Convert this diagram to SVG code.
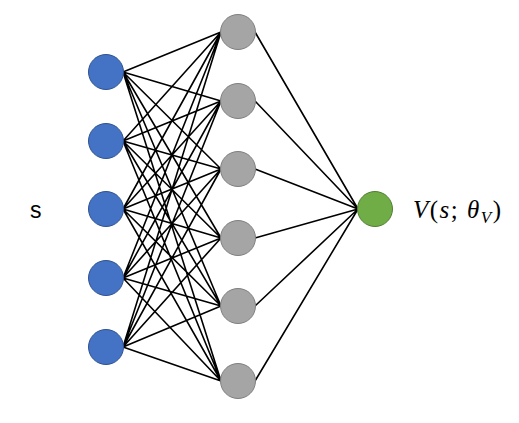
<svg xmlns="http://www.w3.org/2000/svg" width="519" height="423" viewBox="0 0 519 423">
<style>
.e{stroke:#000;stroke-width:1.6;fill:none}
.in{fill:#4472C4;stroke:#2F528F;stroke-width:1}
.hid{fill:#A5A5A5;stroke:#7F7F7F;stroke-width:1}
.out{fill:#70AD47;stroke:#507E32;stroke-width:1}
.t{font-family:"Liberation Sans",Arial,sans-serif;font-size:23px;fill:#000}
.m{font-family:"Liberation Serif","DejaVu Serif",serif;font-size:25px;fill:#000;letter-spacing:1.5px}
</style>
<rect width="519" height="423" fill="#fff"/>
<g id="connectors">
<path class="e" d="M123 72L221 32M123 72L221 101M123 72L221 169M123 72L221 238M123 72L221 306M123 72L221 381
M123 141L221 32M123 141L221 101M123 141L221 169M123 141L221 238M123 141L221 306M123 141L221 381
M123 209L221 32M123 209L221 101M123 209L221 169M123 209L221 238M123 209L221 306M123 209L221 381
M123 278L221 32M123 278L221 101M123 278L221 169M123 278L221 238M123 278L221 306M123 278L221 381
M123 347L221 32M123 347L221 101M123 347L221 169M123 347L221 238M123 347L221 306M123 347L221 381
M255 32L358 209M255 101L358 209M255 169L358 209M255 238L358 209M255 306L358 209M255 381L358 209"/>
</g>
<g id="in1"><circle class="in" cx="106" cy="72" r="17.5"/></g>
<g id="in2"><circle class="in" cx="106" cy="141" r="17.5"/></g>
<g id="in3"><circle class="in" cx="106" cy="209" r="17.5"/></g>
<g id="in4"><circle class="in" cx="106" cy="278" r="17.5"/></g>
<g id="in5"><circle class="in" cx="106" cy="347" r="17.5"/></g>
<g id="h1"><circle class="hid" cx="238" cy="32" r="17.5"/></g>
<g id="h2"><circle class="hid" cx="238" cy="101" r="17.5"/></g>
<g id="h3"><circle class="hid" cx="238" cy="169" r="17.5"/></g>
<g id="h4"><circle class="hid" cx="238" cy="238" r="17.5"/></g>
<g id="h5"><circle class="hid" cx="238" cy="306" r="17.5"/></g>
<g id="h6"><circle class="hid" cx="238" cy="381" r="17.5"/></g>
<g id="out"><circle class="out" cx="375" cy="209" r="17.5"/></g>
<g id="label-s"><text class="t" x="30" y="218">s</text></g>
<g id="label-v"><text class="m" x="413" y="218"><tspan font-style="italic">V</tspan>(<tspan font-style="italic">s</tspan>; <tspan font-style="italic">θ</tspan><tspan font-style="italic" font-size="17" dy="5">V</tspan><tspan dy="-5">)</tspan></text></g>
</svg>
